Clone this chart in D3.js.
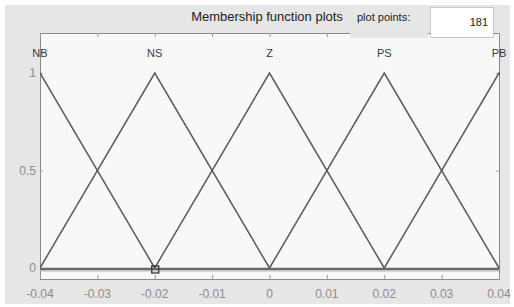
<!DOCTYPE html>
<html>
<head>
<meta charset="utf-8">
<title></title>
<script src="https://cdn.jsdelivr.net/npm/d3@7"></script>
<style>
  body { margin: 0; background: #fff; }
  text { font-family: Arial, "Liberation Sans", sans-serif; }
</style>
</head>
<body>
<script>
const width = 514
const height = 307
const margin = { top: 33, bottom: 28, left: 40, right: 15 }

// membership functions (triangles: left foot, peak, right foot)
const mfNames = ['NB', 'NS', 'Z', 'PS', 'PB']
const mfLeft = [-0.06, -0.04, -0.02, 0, 0.02]
const mfPeak = [-0.04, -0.02, 0, 0.02, 0.04]
const mfRight = [-0.02, 0, 0.02, 0.04, 0.06]
const xTicks = [-0.04, -0.03, -0.02, -0.01, 0, 0.01, 0.02, 0.03, 0.04]
const yTicks = [0, 0.5, 1]
const plotPoints = 181

const svg = d3.select('body').append('svg')
    .attr('width', width)
    .attr('height', height)

// figure background
svg.append('rect').attr('x', 5).attr('y', 5).attr('width', 505).attr('height', 299)
    .attr('fill', '#e6e6e6')

const x = d3.scaleLinear().domain([-0.04, 0.04]).range([margin.left, width - margin.right])
const y = d3.scaleLinear().domain([0, 1]).range([268, 73])
const plotBottom = 279

// plot area
svg.append('rect')
    .attr('x', x(-0.04)).attr('y', margin.top)
    .attr('width', x(0.04) - x(-0.04)).attr('height', plotBottom - margin.top)
    .attr('fill', '#f8f8f8')

// frame
svg.append('rect')
    .attr('x', x(-0.04) + 0.5).attr('y', margin.top + 0.5)
    .attr('width', x(0.04) - x(-0.04)).attr('height', plotBottom - margin.top)
    .attr('fill', 'none').attr('stroke', '#8a8a8a').attr('stroke-width', 1)

// ticks top and bottom
const tickG = svg.append('g').attr('stroke', '#9a9a9a')
xTicks.forEach(d => {
  tickG.append('line').attr('x1', x(d) + 0.5).attr('x2', x(d) + 0.5)
      .attr('y1', margin.top).attr('y2', margin.top + 4)
  tickG.append('line').attr('x1', x(d) + 0.5).attr('x2', x(d) + 0.5)
      .attr('y1', plotBottom).attr('y2', plotBottom - 4)
})
yTicks.forEach(d => {
  tickG.append('line').attr('x1', x(-0.04)).attr('x2', x(-0.04) + 3)
      .attr('y1', y(d) + 0.5).attr('y2', y(d) + 0.5)
  tickG.append('line').attr('x1', x(0.04)).attr('x2', x(0.04) - 3)
      .attr('y1', y(d) + 0.5).attr('y2', y(d) + 0.5)
})

// x tick labels
svg.append('g').selectAll('text').data(xTicks).join('text')
    .attr('x', d => x(d))
    .attr('y', 298)
    .attr('text-anchor', 'middle')
    .attr('font-size', 12)
    .attr('fill', '#8c8c8c')
    .text(d => d === 0 ? '0' : d.toFixed(2))

// y tick labels
svg.append('g').selectAll('text').data(yTicks).join('text')
    .attr('x', x(-0.04) - 4)
    .attr('y', d => y(d) + 4)
    .attr('text-anchor', 'end')
    .attr('font-size', 12)
    .attr('fill', '#8c8c8c')
    .text(d => d)

// zero baseline (highlighted)
svg.append('line')
    .attr('x1', x(-0.04)).attr('x2', x(0.04))
    .attr('y1', y(0) + 1).attr('y2', y(0) + 1)
    .attr('stroke', '#6a6a6a').attr('stroke-width', 2.5)
svg.append('line')
    .attr('x1', x(-0.04)).attr('x2', x(0.04))
    .attr('y1', y(0) + 3).attr('y2', y(0) + 3)
    .attr('stroke', '#b5b5b5').attr('stroke-width', 1)

// clip
svg.append('clipPath').attr('id', 'clip').append('rect')
    .attr('x', x(-0.04)).attr('y', margin.top)
    .attr('width', x(0.04) - x(-0.04) + 1).attr('height', plotBottom - margin.top)

const line = d3.line().x(d => x(d[0])).y(d => y(d[1]))
const mfG = svg.append('g').attr('clip-path', 'url(#clip)')
mfNames.forEach((n, i) => {
  mfG.append('path')
      .attr('d', line([[mfLeft[i], 0], [mfPeak[i], 1], [mfRight[i], 0]]))
      .attr('fill', 'none')
      .attr('stroke', '#5a5a5a')
      .attr('stroke-width', 1.5)
})

// mf labels
svg.append('g').selectAll('text').data(mfNames).join('text')
    .attr('x', (d, i) => x(mfPeak[i]))
    .attr('y', 57)
    .attr('text-anchor', 'middle')
    .attr('font-size', 11)
    .attr('fill', '#3a3a3a')
    .text(d => d)

// selected marker
svg.append('rect')
    .attr('x', x(-0.02) - 3).attr('y', y(0) - 2)
    .attr('width', 7).attr('height', 7)
    .attr('fill', 'none').attr('stroke', '#333').attr('stroke-width', 1.3)

// header
svg.append('text').attr('x', 267).attr('y', 21)
    .attr('text-anchor', 'middle').attr('font-size', 13).attr('fill', '#222')
    .text('Membership function plots')

svg.append('rect').attr('x', 350).attr('y', 5).attr('width', 78).attr('height', 33)
    .attr('fill', '#e6e6e6')
svg.append('text').attr('x', 357).attr('y', 21)
    .attr('font-size', 11).attr('fill', '#222')
    .text('plot points:')

svg.append('rect').attr('x', 430.5).attr('y', 7.5).attr('width', 63).attr('height', 30)
    .attr('fill', '#fff').attr('stroke', '#c8c8c8')
svg.append('text').attr('x', 488).attr('y', 26)
    .attr('text-anchor', 'end').attr('font-size', 11).attr('fill', '#222')
    .text(plotPoints)
</script>
</body>
</html>
